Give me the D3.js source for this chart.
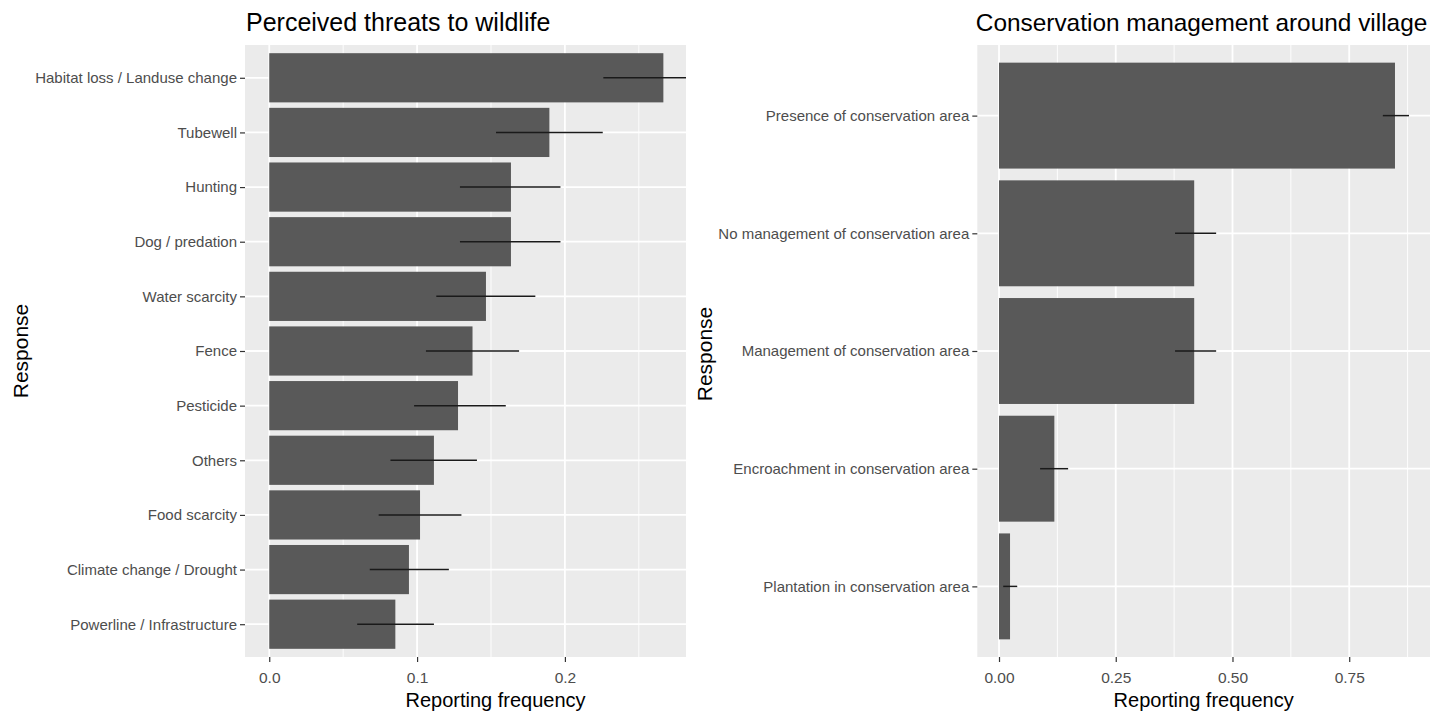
<!DOCTYPE html>
<html>
<head>
<meta charset="utf-8">
<script src="https://cdn.jsdelivr.net/npm/d3@7"></script>
<style>
  html, body { margin: 0; padding: 0; background: #fff; }
  svg { display: block; font-family: "Liberation Sans", Arial, sans-serif; }
</style>
</head>
<body>
<svg id="chart" width="1437" height="719"></svg>
<script>
// Perceived threats to wildlife (top to bottom)
const threatCategories = [
  "Habitat loss / Landuse change", "Tubewell", "Hunting", "Dog / predation",
  "Water scarcity", "Fence", "Pesticide", "Others", "Food scarcity",
  "Climate change / Drought", "Powerline / Infrastructure"
];
const threatFreq  = [0.2666, 0.1895, 0.1635, 0.1635, 0.1466, 0.1375, 0.1277, 0.1114, 0.1020, 0.0945, 0.0853];
const threatLower = [0.2260, 0.1534, 0.1290, 0.1290, 0.1130, 0.1060, 0.0980, 0.0820, 0.0740, 0.0680, 0.0595];
const threatUpper = [0.3070, 0.2256, 0.1970, 0.1970, 0.1800, 0.1690, 0.1600, 0.1405, 0.1300, 0.1215, 0.1114];
const threatTicks = [0, 0.1, 0.2];
const threatMinor = [0.05, 0.15, 0.25, 0.35];

// Conservation management around village (top to bottom)
const mgmtCategories = [
  "Presence of conservation area", "No management of conservation area",
  "Management of conservation area", "Encroachment in conservation area",
  "Plantation in conservation area"
];
const mgmtFreq  = [0.848, 0.418, 0.418, 0.1185, 0.0236];
const mgmtLower = [0.822, 0.377, 0.377, 0.088, 0.009];
const mgmtUpper = [0.878, 0.465, 0.465, 0.148, 0.039];
const mgmtTicks = [0, 0.25, 0.5, 0.75];
const mgmtMinor = [0.125, 0.375, 0.625, 0.875];

const svg = d3.select("#chart");

const panelTop = 45, panelBottom = 657;

function drawPanel(opt) {
  const g = svg.append("g");
  if (opt.clipRight) {
    const id = "clip-" + opt.key;
    svg.append("clipPath").attr("id", id)
      .append("rect").attr("x", 0).attr("y", 0)
      .attr("width", opt.clipRight).attr("height", 719);
    g.attr("clip-path", `url(#${id})`);
  }

  const x = d3.scaleLinear().domain(opt.domain).range([opt.left, opt.right]);
  const y = d3.scalePoint().domain(opt.categories).range([panelTop, panelBottom]).padding(0.6);
  const barH = y.step() * 0.9;

  // panel background
  g.append("rect")
    .attr("x", opt.left).attr("y", panelTop)
    .attr("width", opt.right - opt.left).attr("height", panelBottom - panelTop)
    .attr("fill", "#EBEBEB");

  // minor grid
  g.append("g").selectAll("line").data(opt.minor).join("line")
    .attr("x1", d => x(d)).attr("x2", d => x(d))
    .attr("y1", panelTop).attr("y2", panelBottom)
    .attr("stroke", "#fff").attr("stroke-width", 0.9);

  // major grid
  g.append("g").selectAll("line").data(opt.ticks).join("line")
    .attr("x1", d => x(d)).attr("x2", d => x(d))
    .attr("y1", panelTop).attr("y2", panelBottom)
    .attr("stroke", "#fff").attr("stroke-width", 1.8);
  g.append("g").selectAll("line").data(opt.categories).join("line")
    .attr("x1", opt.left).attr("x2", opt.right)
    .attr("y1", d => y(d)).attr("y2", d => y(d))
    .attr("stroke", "#fff").attr("stroke-width", 1.8);

  // bars
  g.append("g").selectAll("rect").data(opt.categories).join("rect")
    .attr("x", x(0))
    .attr("y", d => y(d) - barH / 2)
    .attr("width", (d, i) => x(opt.values[i]) - x(0))
    .attr("height", barH)
    .attr("fill", "#595959");

  // error bars
  g.append("g").selectAll("line").data(opt.categories).join("line")
    .attr("x1", (d, i) => x(opt.lower[i]))
    .attr("x2", (d, i) => x(opt.upper[i]))
    .attr("y1", d => y(d)).attr("y2", d => y(d))
    .attr("stroke", "#1a1a1a").attr("stroke-width", 1.5);

  // y axis
  const yAxis = d3.axisLeft(y).tickSize(5).tickPadding(3);
  const ya = g.append("g").attr("transform", `translate(${opt.left},0)`).call(yAxis);
  ya.select(".domain").remove();
  ya.selectAll(".tick line").attr("stroke", "#333").attr("stroke-width", 1.2);
  ya.selectAll(".tick text").attr("fill", "#4D4D4D")
    .style("font-size", "15px").attr("font-family", "Liberation Sans, Arial, sans-serif");

  // x axis
  const xAxis = d3.axisBottom(x).tickValues(opt.ticks).tickFormat(opt.fmt).tickSize(5).tickPadding(10);
  const xa = g.append("g").attr("transform", `translate(0,${panelBottom})`).call(xAxis);
  xa.select(".domain").remove();
  xa.selectAll(".tick line").attr("stroke", "#333").attr("stroke-width", 1.2);
  xa.selectAll(".tick text").attr("fill", "#4D4D4D")
    .style("font-size", "15.5px").attr("font-family", "Liberation Sans, Arial, sans-serif");

  // axis titles
  g.append("text")
    .attr("x", (opt.left + opt.right) / 2).attr("y", 707)
    .attr("text-anchor", "middle").attr("fill", "#000")
    .style("font-size", "20px")
    .text("Reporting frequency");

  g.append("text")
    .attr("transform", `translate(${opt.yTitleX},${(panelTop + panelBottom) / 2 + opt.yTitleShift}) rotate(-90)`)
    .attr("text-anchor", "middle").attr("fill", "#000")
    .style("font-size", "21px")
    .text("Response");

  // title
  g.append("text")
    .attr("x", opt.left + opt.titleShift).attr("y", 31)
    .attr("fill", "#000").style("font-size", opt.titleSize + "px")
    .text(opt.title);
}

drawPanel({
  key: "threats",
  title: "Perceived threats to wildlife",
  titleSize: 25, titleShift: 1,
  categories: threatCategories,
  values: threatFreq, lower: threatLower, upper: threatUpper,
  ticks: threatTicks, minor: threatMinor,
  fmt: d3.format(".1f"),
  domain: [-0.0164, 0.3225],
  left: 245, right: 746,
  clipRight: 686,
  yTitleX: 28, yTitleShift: 0
});

drawPanel({
  key: "mgmt",
  title: "Conservation management around village",
  titleSize: 24.4, titleShift: -1.5,
  categories: mgmtCategories,
  values: mgmtFreq, lower: mgmtLower, upper: mgmtUpper,
  ticks: mgmtTicks, minor: mgmtMinor,
  fmt: d3.format(".2f"),
  domain: [-0.0465, 0.923],
  left: 977.3, right: 1430,
  clipRight: null,
  yTitleX: 712, yTitleShift: 3
});
</script>
</body>
</html>
